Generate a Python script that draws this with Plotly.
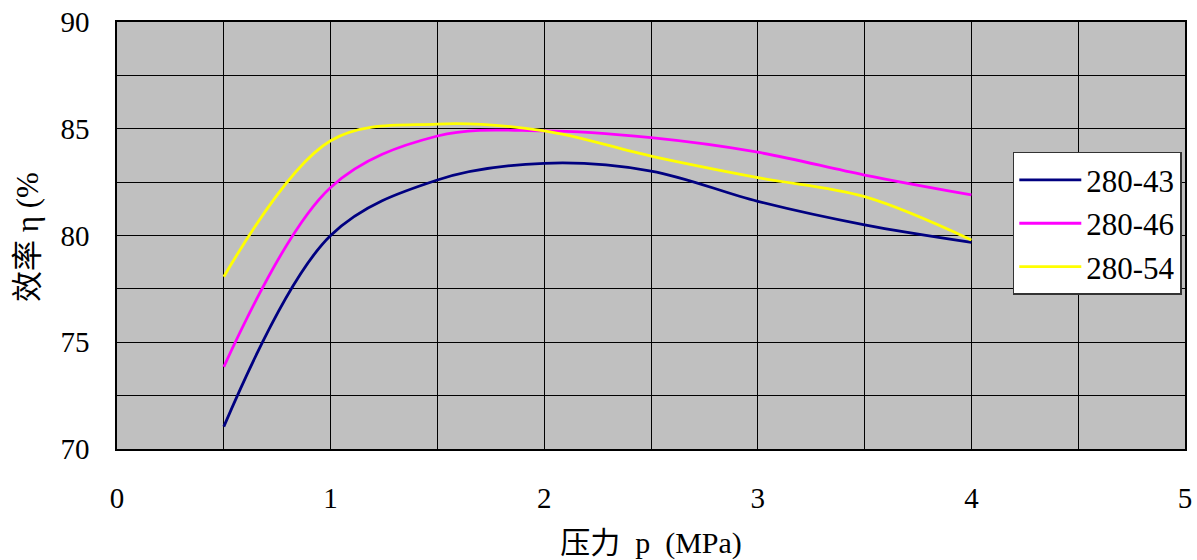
import plotly.graph_objects as go

pressure = [0.5, 1.0, 1.5, 2.0, 2.5, 3.0, 3.5, 4.0]
eff_280_43 = [71.05, 80.0, 82.6, 83.38, 83.02, 81.6, 80.5, 79.68]
eff_280_46 = [73.85, 82.25, 84.66, 84.9, 84.58, 83.9, 82.83, 81.9]
eff_280_54 = [78.07, 84.44, 85.22, 84.9, 83.72, 82.71, 81.82, 79.79]

series = [
    ("280-43", eff_280_43, "#000080"),
    ("280-46", eff_280_46, "#FF00FF"),
    ("280-54", eff_280_54, "#FFFF00"),
]

FONT = "'Liberation Serif', 'DejaVu Serif', 'Noto Sans CJK SC', serif"

fig = go.Figure()
for name, vals, color in series:
    fig.add_trace(go.Scatter(
        x=pressure, y=vals, name=name, mode="lines",
        line=dict(color=color, width=2.8, shape="spline", smoothing=1.0),
    ))

fig.update_layout(
    width=1197, height=560,
    margin=dict(l=117, r=12, t=22, b=111),
    paper_bgcolor="white",
    plot_bgcolor="#C0C0C0",
    font=dict(family=FONT, size=29, color="black"),
    showlegend=True,
    legend=dict(
        x=0.997, y=0.696, xanchor="right", yanchor="top",
        bgcolor="white", bordercolor="#333333", borderwidth=1.5,
        font=dict(family=FONT, size=31, color="black"),
        tracegroupgap=0, itemwidth=62,
    ),
    annotations=[dict(
        text="效率\u00a0η\u00a0(%", textangle=-90,
        xref="paper", yref="paper", x=(27 - 117) / 1068, y=(449 - 237) / 427,
        xanchor="center", yanchor="middle", showarrow=False,
        font=dict(family=FONT, size=31, color="black"),
    )],
)

fig.update_xaxes(
    range=[0, 5], dtick=1, tick0=0, automargin=False,
    ticklabeloverflow="allow",
    showgrid=True, gridcolor="black", gridwidth=1,
    minor=dict(dtick=0.5, showgrid=True, gridcolor="black", gridwidth=1),
    showline=True, linecolor="black", linewidth=1.5, mirror=True,
    zeroline=False,
    ticks="outside", ticklen=22, tickcolor="rgba(0,0,0,0)",
    title=dict(text="压力\u00a0\u00a0p\u00a0\u00a0(MPa)", standoff=20,
               font=dict(family=FONT, size=30)),
)
fig.update_yaxes(
    range=[70, 90], dtick=5, tick0=70, automargin=False,
    ticklabeloverflow="allow",
    showgrid=True, gridcolor="black", gridwidth=1,
    minor=dict(dtick=2.5, showgrid=True, gridcolor="black", gridwidth=1),
    showline=True, linecolor="black", linewidth=1.5, mirror=True,
    zeroline=False,
    ticks="outside", ticklen=20, tickcolor="rgba(0,0,0,0)",
)

fig.write_html(
    "out.html",
    config={"displayModeBar": False},
    post_script="document.body.style.margin='0px';document.body.style.overflow='hidden';",
)
